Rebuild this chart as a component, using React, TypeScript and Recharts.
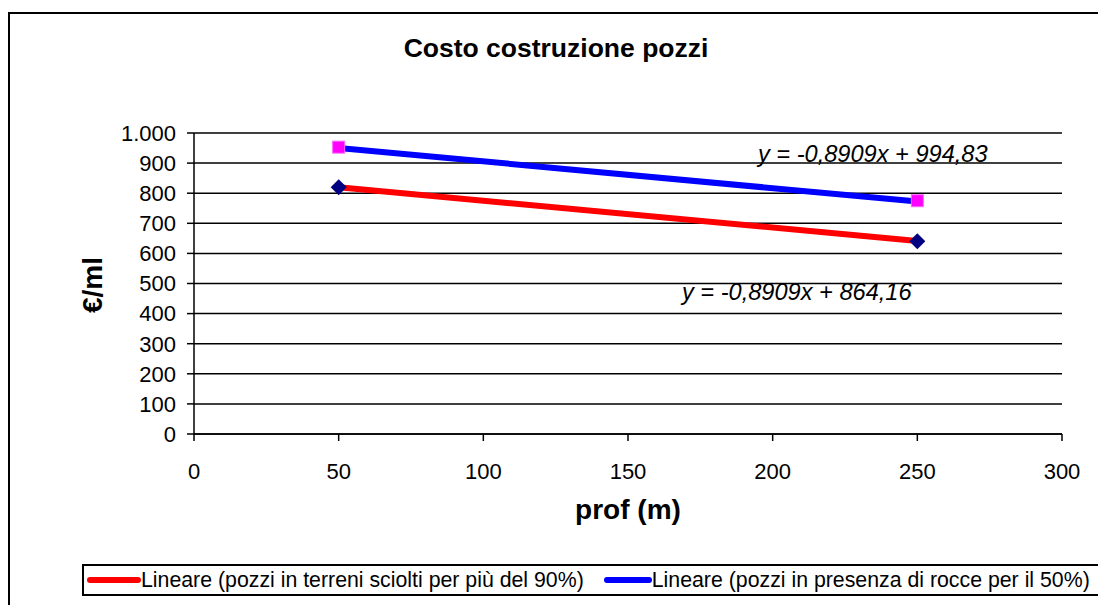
import React from "react";
import {
  CartesianGrid,
  ComposedChart,
  Line,
  XAxis,
  YAxis,
} from "recharts";

const depths = [50, 250];
const costSoft = [820, 640];
const costRock = [953, 775];
const trendSoft = [819.6, 641.4];
const trendRock = [950.3, 772.1];
const xTicks = [0, 50, 100, 150, 200, 250, 300];
const yTicks = [0, 100, 200, 300, 400, 500, 600, 700, 800, 900, 1000];

const eqRock = "y = -0,8909x + 994,83";
const eqSoft = "y = -0,8909x + 864,16";
const legendSoft = "Lineare (pozzi in terreni sciolti per più del 90%)";
const legendRock = "Lineare (pozzi in presenza di rocce per il 50%)";

const data = depths.map((d, i) => ({
  prof: d,
  soft: costSoft[i],
  rock: costRock[i],
  softTrend: trendSoft[i],
  rockTrend: trendRock[i],
}));

const font = "'Liberation Sans', Arial, sans-serif";

const fmt = (v: number) => v.toLocaleString("de-DE");

const Diamond = (props: any) => {
  const { cx, cy } = props;
  if (cx == null || cy == null) return null;
  const r = 8;
  return (
    <path
      d={`M${cx},${cy - r}L${cx + r},${cy}L${cx},${cy + r}L${cx - r},${cy}Z`}
      fill="#000080"
    />
  );
};

const Square = (props: any) => {
  const { cx, cy } = props;
  if (cx == null || cy == null) return null;
  return (
    <rect
      x={cx - 6}
      y={cy - 6}
      width={12}
      height={12}
      fill="#ff00ff"
      stroke="#ff66ff"
      strokeWidth={1}
    />
  );
};

const App = () => {
  return (
    <div
      style={{
        position: "fixed",
        left: 0,
        top: 0,
        width: 1098,
        height: 605,
        overflow: "hidden",
        background: "#fff",
        fontFamily: font,
      }}
    >
      <div
        style={{
          position: "absolute",
          left: 8,
          top: 12,
          width: 1200,
          height: 700,
          border: "2px solid #000",
        }}
      />
      <div
        style={{
          position: "absolute",
          left: 0,
          width: 1112,
          top: 33,
          textAlign: "center",
          fontSize: 26.5,
          fontWeight: "bold",
        }}
      >
        Costo costruzione pozzi
      </div>
      <div
        style={{
          position: "absolute",
          left: 0,
          width: 1256,
          top: 494,
          textAlign: "center",
          fontSize: 28,
          fontWeight: "bold",
        }}
      >
        prof (m)
      </div>
      <div
        style={{
          position: "absolute",
          left: 93,
          top: 285,
          transform: "translate(-50%, -50%) rotate(-90deg)",
          fontSize: 28,
          fontWeight: "bold",
          whiteSpace: "nowrap",
        }}
      >
        €/ml
      </div>
      <ComposedChart
        width={1098}
        height={605}
        data={data}
        margin={{ top: 133, right: 36, bottom: 111, left: 134 }}
        style={{ position: "absolute", left: 0, top: 0 }}
      >
        <CartesianGrid vertical={false} stroke="#000" strokeWidth={1.5} />
        <XAxis
          dataKey="prof"
          type="number"
          domain={[0, 300]}
          ticks={xTicks}
          interval={0}
          height={60}
          axisLine={{ stroke: "#000", strokeWidth: 1.5 }}
          tickLine={{ stroke: "#000", strokeWidth: 1.5 }}
          tickSize={7}
          tickMargin={22}
          tick={{ fill: "#000", fontSize: 22, fontFamily: font }}
        />
        <YAxis
          type="number"
          domain={[0, 1000]}
          ticks={yTicks}
          interval={0}
          width={60}
          tickFormatter={fmt}
          axisLine={{ stroke: "#000", strokeWidth: 1.5 }}
          tickLine={{ stroke: "#000", strokeWidth: 1.5 }}
          tickSize={7}
          tickMargin={11}
          tick={{ fill: "#000", fontSize: 22, fontFamily: font }}
        />
        <Line
          dataKey="soft"
          stroke="none"
          dot={<Diamond />}
          activeDot={false}
          isAnimationActive={false}
        />
        <Line
          dataKey="rock"
          stroke="none"
          dot={<Square />}
          activeDot={false}
          isAnimationActive={false}
        />
        <Line
          dataKey="softTrend"
          stroke="#ff0000"
          strokeWidth={6}
          strokeLinecap="round"
          dot={false}
          activeDot={false}
          isAnimationActive={false}
        />
        <Line
          dataKey="rockTrend"
          stroke="#0000ff"
          strokeWidth={6}
          strokeLinecap="round"
          dot={false}
          activeDot={false}
          isAnimationActive={false}
        />
      </ComposedChart>
      <div
        style={{
          position: "absolute",
          left: 758,
          top: 141,
          fontSize: 23.6,
          fontStyle: "italic",
          whiteSpace: "nowrap",
        }}
      >
        {eqRock}
      </div>
      <div
        style={{
          position: "absolute",
          left: 682,
          top: 279,
          fontSize: 23.6,
          fontStyle: "italic",
          whiteSpace: "nowrap",
        }}
      >
        {eqSoft}
      </div>
      <div
        style={{
          position: "absolute",
          left: 82,
          top: 564,
          width: 1100,
          height: 32,
          border: "2px solid #000",
          boxSizing: "border-box",
          display: "flex",
          alignItems: "center",
          fontSize: 21.3,
          whiteSpace: "nowrap",
        }}
      >
        <span
          style={{
            display: "inline-block",
            width: 54,
            height: 6,
            borderRadius: 3,
            background: "#ff0000",
            marginLeft: 3,
          }}
        />
        <span>{legendSoft}</span>
        <span
          style={{
            display: "inline-block",
            width: 48,
            height: 6,
            borderRadius: 3,
            background: "#0000ff",
            marginLeft: 20,
          }}
        />
        <span>{legendRock}</span>
      </div>
    </div>
  );
};

export default App;
